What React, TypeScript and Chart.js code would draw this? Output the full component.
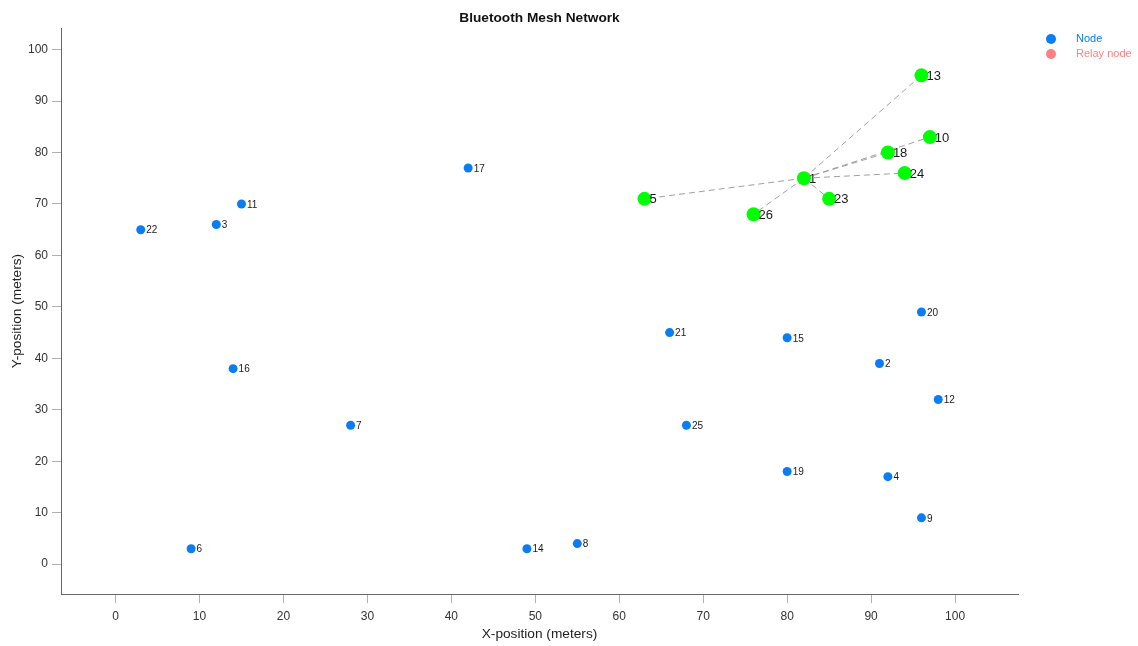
import React, { useEffect, useRef } from "react";
import { Chart, registerables } from "chart.js";

Chart.register(...registerables);

const FONT = "'Liberation Sans', Arial, Helvetica, sans-serif";

const nodeIds = [1, 2, 3, 4, 5, 6, 7, 8, 9, 10, 11, 12, 13, 14, 15, 16, 17, 18, 19, 20, 21, 22, 23, 24, 25, 26];
const nodeX = [82, 91, 12, 92, 63, 9, 28, 55, 96, 97, 15, 98, 96, 49, 80, 14, 42, 92, 80, 96, 66, 3, 85, 94, 68, 76];
const nodeY = [75, 39, 66, 17, 71, 3, 27, 4, 9, 83, 70, 32, 95, 3, 44, 38, 77, 80, 18, 49, 45, 65, 71, 76, 27, 68];

const connectedIds = [1, 5, 10, 13, 18, 23, 24, 26];
const relayIds: number[] = [];
const hubId = 1;
const linkTargets = [13, 10, 18, 24, 23, 5, 26];

const xTicks = [0, 10, 20, 30, 40, 50, 60, 70, 80, 90, 100];
const yTicks = [0, 10, 20, 30, 40, 50, 60, 70, 80, 90, 100];

const TITLE = "Bluetooth Mesh Network";

const NODE_COLOR = "rgb(10,125,245)";
const RELAY_COLOR = "rgb(255,128,128)";
const CONNECTED_COLOR = "rgb(0,255,0)";

function pt(id: number) {
  const i = nodeIds.indexOf(id);
  return { x: nodeX[i], y: nodeY[i], id };
}

const nodeLabelPlugin = {
  id: "nodeLabels",
  afterDatasetsDraw(chart: any) {
    const ctx = chart.ctx;
    ctx.save();
    chart.data.datasets.forEach((ds: any, di: number) => {
      if (!ds.labelSize) return;
      const meta = chart.getDatasetMeta(di);
      meta.data.forEach((el: any, i: number) => {
        const d = ds.data[i];
        ctx.font = `${ds.labelSize}px ${FONT}`;
        ctx.fillStyle = "#1a1a1a";
        ctx.textAlign = "left";
        ctx.textBaseline = "middle";
        ctx.fillText(String(d.id), el.x + ds.labelOffset, el.y + 1);
      });
    });
    ctx.restore();
  },
};

const titlePlugin = {
  id: "centeredTitle",
  afterDraw(chart: any) {
    const ctx = chart.ctx;
    const a = chart.chartArea;
    ctx.save();
    ctx.font = `bold 13.7px ${FONT}`;
    ctx.fillStyle = "#111";
    ctx.textAlign = "center";
    ctx.textBaseline = "middle";
    ctx.fillText(TITLE, (a.left + a.right) / 2, 18);
    ctx.restore();
  },
};

const legendPlugin = {
  id: "customLegend",
  afterDraw(chart: any) {
    const ctx = chart.ctx;
    const items = chart.data.datasets.filter((d: any) => d.inLegend);
    ctx.save();
    items.forEach((d: any, i: number) => {
      const y = 39 + i * 15;
      ctx.beginPath();
      ctx.fillStyle = d.backgroundColor;
      ctx.arc(1051, y, 5, 0, Math.PI * 2);
      ctx.fill();
      ctx.font = `11px ${FONT}`;
      ctx.fillStyle = d.backgroundColor;
      ctx.textAlign = "left";
      ctx.textBaseline = "middle";
      ctx.fillText(d.label, 1076, y);
    });
    ctx.restore();
  },
};

export default function App() {
  const ref = useRef<HTMLCanvasElement | null>(null);

  useEffect(() => {
    if (!ref.current) return;
    const hub = pt(hubId);
    const linkSets = linkTargets.map((t) => ({
      type: "line" as const,
      label: `link ${hubId}-${t}`,
      data: [{ x: hub.x, y: hub.y }, { x: pt(t).x, y: pt(t).y }],
      showLine: true,
      borderColor: "rgba(150,150,150,0.9)",
      borderDash: [6, 4],
      borderWidth: 1,
      pointRadius: 0,
      order: 10,
    }));

    const plainIds = nodeIds.filter((id) => !connectedIds.includes(id) && !relayIds.includes(id));

    const chart = new Chart(ref.current, {
      type: "scatter",
      data: {
        datasets: [
          ...linkSets,
          {
            label: "Node",
            data: plainIds.map(pt),
            backgroundColor: NODE_COLOR,
            borderWidth: 0,
            pointRadius: 4.5,
            order: 1,
            inLegend: true,
            labelSize: 10,
            labelOffset: 5.5,
          } as any,
          {
            label: "Relay node",
            data: relayIds.map(pt),
            backgroundColor: RELAY_COLOR,
            borderWidth: 0,
            pointRadius: 4.5,
            order: 1,
            inLegend: true,
            labelSize: 10,
            labelOffset: 5.5,
          } as any,
          {
            label: "Connected node",
            data: connectedIds.map(pt),
            backgroundColor: CONNECTED_COLOR,
            borderWidth: 0,
            pointRadius: 7,
            order: 0,
            inLegend: false,
            labelSize: 13,
            labelOffset: 5,
          } as any,
        ],
      },
      options: {
        animation: false,
        responsive: false,
        layout: { padding: { left: 0, right: 120, top: 28, bottom: 0 } },
        plugins: {
          legend: { display: false },
          tooltip: { enabled: false },
          title: { display: false, text: TITLE },
        },
        scales: {
          x: {
            type: "linear",
            min: -6.5,
            max: 107.5,
            border: { color: "#666", width: 1 },
            grid: { drawOnChartArea: false, drawTicks: true, tickLength: 9, tickColor: "#b0b0b0" },
            ticks: { color: "#333", font: { family: FONT, size: 12 }, padding: 6 },
            afterBuildTicks: (s: any) => {
              s.ticks = xTicks.map((v) => ({ value: v }));
            },
            afterFit: (s: any) => {
              s.height = 52;
            },
            title: {
              display: true,
              text: "X-position (meters)",
              color: "#222",
              font: { family: FONT, size: 13.7 },
              padding: { top: 4, bottom: 4 },
            },
          },
          y: {
            type: "linear",
            min: -5.8,
            max: 104.2,
            border: { color: "#666", width: 1 },
            grid: { drawOnChartArea: false, drawTicks: true, tickLength: 9, tickColor: "#b0b0b0" },
            ticks: { color: "#333", font: { family: FONT, size: 12 }, padding: 4 },
            afterBuildTicks: (s: any) => {
              s.ticks = yTicks.map((v) => ({ value: v }));
            },
            afterFit: (s: any) => {
              s.width = 61;
            },
            title: {
              display: true,
              text: "Y-position (meters)",
              color: "#222",
              font: { family: FONT, size: 13.7 },
              padding: { top: 9, bottom: 4 },
            },
          },
        },
      } as any,
      plugins: [nodeLabelPlugin, legendPlugin, titlePlugin],
    });
    return () => chart.destroy();
  }, []);

  return (
    <div style={{ position: "absolute", left: 0, top: 0, width: 1138, height: 646, background: "#fff" }}>
      <canvas ref={ref} width={1138} height={646} />
    </div>
  );
}
